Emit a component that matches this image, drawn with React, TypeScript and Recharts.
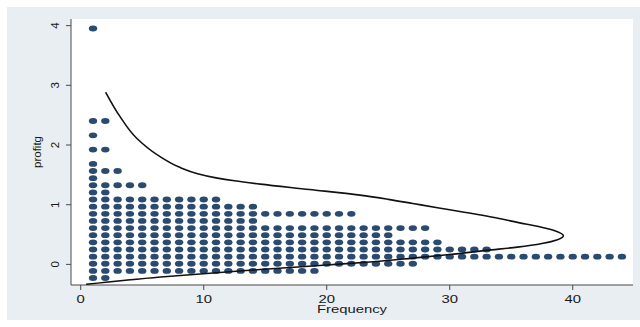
import { ScatterChart, Scatter, XAxis, YAxis, CartesianGrid } from 'recharts'

// dot plot rows: bin value of profitg and the number of dots in it
const binValues = [
  -0.228, -0.109, 0.011, 0.13, 0.25, 0.37, 0.489, 0.609, 0.728, 0.848, 0.967,
  1.087, 1.206, 1.326, 1.445, 1.565, 1.684, 1.923, 2.162, 2.402, 3.952,
]
const binCounts = [2, 19, 27, 44, 33, 29, 25, 28, 14, 22, 14, 11, 2, 5, 1, 3, 1, 2, 1, 2, 1]

// density curve (sorted by profitg)
const curveValues = [
  -0.333, -0.21, -0.085, -0.01, 0.04, 0.105, 0.165, 0.235, 0.29, 0.35, 0.41, 0.481,
  0.56, 0.632, 0.7, 0.79, 0.87, 0.95, 1.02, 1.09, 1.16, 1.255, 1.345, 1.4, 1.45,
  1.52, 1.63, 1.805, 2.113, 2.475, 2.884,
]
const curveFreqs = [
  0.44, 6.5, 14.6, 20.0, 23.5, 27.0, 30.0, 33.0, 35.5, 37.5, 38.7, 39.24,
  38.6, 37.3, 35.6, 33.5, 31.3, 29.0, 27.0, 25.0, 22.7, 18.6, 14.6, 12.5, 11.0,
  9.5, 8.0, 6.45, 4.55, 3.2, 2.03,
]

const xTicks = [0, 10, 20, 30, 40]
const yTicks = [0, 1, 2, 3, 4]

const dots = binValues.flatMap((v, i) =>
  Array.from({ length: binCounts[i] }, (_, k) => ({ freq: k + 1, profitg: v }))
)
const curve = curveValues.map((v, i) => ({ freq: curveFreqs[i], profitg: v }))

const FONT = '"Liberation Sans", Arial, sans-serif'
const TEXT = '#1a1a1a'
const AXIS = '#4a4a4a'
const NAVY = '#2b4a70'

const Dot = (props: any) => (
  <ellipse cx={props.cx} cy={props.cy} rx={4.2} ry={2.9} fill={NAVY} />
)

const XTick = (props: any) => {
  const { x, y, payload } = props
  return (
    <text
      transform={`translate(${x} ${y + 10.5}) scale(1.35 1)`}
      textAnchor="middle"
      fontSize={11}
      fontFamily={FONT}
      fill={TEXT}
    >
      {payload.value}
    </text>
  )
}

const YTick = (props: any) => {
  const { x, y, payload } = props
  return (
    <text
      transform={`translate(${x} ${y}) rotate(-90)`}
      textAnchor="middle"
      fontSize={11.5}
      fontFamily={FONT}
      fill={TEXT}
    >
      {payload.value}
    </text>
  )
}

export default function App() {
  return (
    <div style={{ position: 'absolute', left: 0, top: 0, width: 640, height: 327, background: '#fff' }}>
      <div style={{ position: 'absolute', left: 7, top: 7, width: 633, height: 313, background: '#e8eef1' }} />
      <div style={{ position: 'absolute', left: 0, top: 0 }}>
        <ScatterChart width={640} height={327} margin={{ top: 19, right: 7, bottom: 0, left: 0 }}>
          <CartesianGrid horizontal={false} vertical={false} fill="#ffffff" />
          <XAxis
            type="number"
            dataKey="freq"
            domain={[-0.79, 44.9]}
            ticks={xTicks}
            allowDataOverflow
            height={42}
            tickSize={5}
            axisLine={{ stroke: AXIS }}
            tickLine={{ stroke: AXIS }}
            tick={<XTick />}
            label={{
              content: (p: any) => (
                <text
                  transform={`translate(${p.viewBox.x + p.viewBox.width / 2} 313) scale(1.35 1)`}
                  textAnchor="middle"
                  fontSize={11}
                  fontFamily={FONT}
                  fill={TEXT}
                >
                  Frequency
                </text>
              ),
            }}
          />
          <YAxis
            type="number"
            dataKey="profitg"
            domain={[-0.345, 4.111]}
            ticks={yTicks}
            allowDataOverflow
            width={71}
            tickSize={5}
            tickMargin={7}
            axisLine={{ stroke: AXIS }}
            tickLine={{ stroke: AXIS }}
            tick={<YTick />}
            label={{
              content: (p: any) => {
                const cx = 40.5
                const cy = p.viewBox.y + p.viewBox.height / 2
                return (
                  <text
                    transform={`translate(${cx} ${cy}) rotate(-90)`}
                    textAnchor="middle"
                    fontSize={11.5}
                    fontFamily={FONT}
                    fill={TEXT}
                  >
                    profitg
                  </text>
                )
              },
            }}
          />
          <Scatter data={dots} shape={<Dot />} isAnimationActive={false} />
          <Scatter
            data={curve}
            line={{ stroke: '#111111', strokeWidth: 1.6 }}
            lineType="joint"
            lineJointType="monotoneY"
            shape={() => <g />}
            isAnimationActive={false}
          />
        </ScatterChart>
      </div>
    </div>
  )
}
